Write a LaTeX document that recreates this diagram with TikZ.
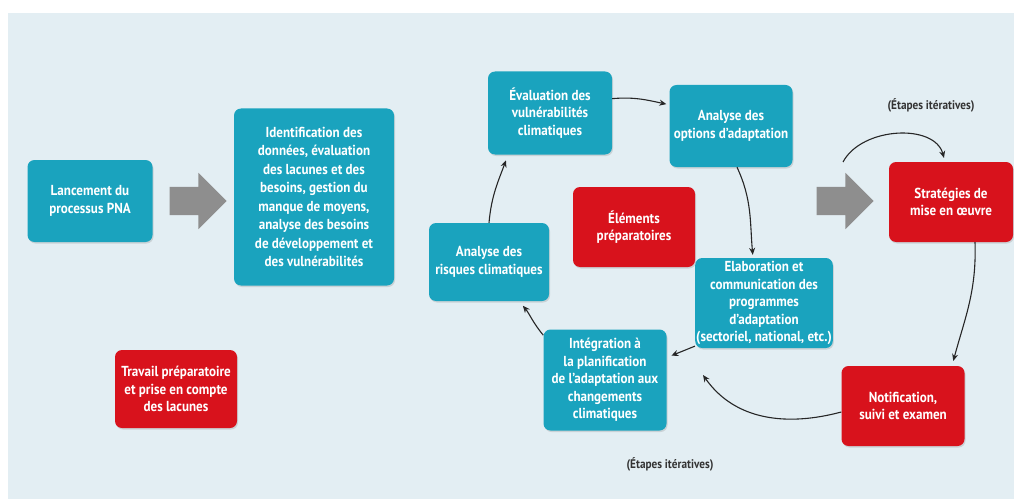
\documentclass[tikz,border=0pt]{standalone}
\usepackage{fontspec}
\newfontfamily\cf{PT Sans}[FakeStretch=0.9]
\usetikzlibrary{arrows.meta,shapes.arrows,shadows}
\definecolor{bgc}{HTML}{E3EEF3}
\definecolor{tealc}{HTML}{1AA3BE}
\definecolor{redc}{HTML}{D8121C}
\definecolor{greyc}{HTML}{8E8E8E}
\begin{document}
\begin{tikzpicture}[x=1pt,y=1pt,
  box/.style={rounded corners=7pt, text=white, align=center, inner xsep=1pt, inner ysep=2pt,
    font=\cf\bfseries\fontsize{14.5}{17.5}\selectfont,
    drop shadow={opacity=0.25, shadow xshift=1pt, shadow yshift=-1.5pt}},
  tbox/.style={box, fill=tealc},
  rbox/.style={box, fill=redc},
  bigarrow/.style={single arrow, fill=greyc, minimum height=57pt, inner xsep=0pt, inner ysep=14pt,
    single arrow head extend=14pt},
  conn/.style={-{Stealth[length=7pt,width=6pt]}, line width=1.1pt, black!85},
  itlab/.style={font=\cf\bfseries\fontsize{12.5}{14}\selectfont, text=black!80}]
\useasboundingbox (0,0) rectangle (1014,499);
\fill[white] (0,0) rectangle (1014,499);
\fill[bgc] (8,0) rectangle (1014,486);
% nodes
\node[tbox, minimum width=125pt, minimum height=82pt] (lanc) at (90,298) {Lancement du\\processus PNA};
\node[bigarrow] (g1) at (191,298) {};
\node[tbox, minimum width=160pt, minimum height=177pt, font=\cf\bfseries\fontsize{14.5}{18.5}\selectfont] (ident) at (314,302)
  {Identification des\\données, évaluation\\des lacunes et des\\besoins, gestion du\\manque de moyens,\\analyse des besoins\\de développement et\\des vulnérabilités};
\node[tbox, minimum width=120pt, minimum height=78pt] (risq) at (489,237) {Analyse des\\risques climatiques};
\node[tbox, minimum width=124pt, minimum height=83pt] (eval) at (550,386) {Évaluation des\\vulnérabilités\\climatiques};
\node[tbox, minimum width=123pt, minimum height=82pt] (opt) at (731,373) {Analyse des\\options d’adaptation};
\node[rbox, minimum width=122pt, minimum height=80pt] (elem) at (634,272) {Éléments\\préparatoires};
\node[tbox, minimum width=137pt, minimum height=90pt] (elab) at (764,196) {Elaboration et\\communication des\\programmes\\d’adaptation\\(sectoriel, national, etc.)};
\node[tbox, minimum width=123pt, minimum height=101pt] (integ) at (605,119) {Intégration à\\la planification\\de l’adaptation aux\\changements\\climatiques};
\node[bigarrow] (g2) at (838,298) {};
\node[rbox, minimum width=124pt, minimum height=80pt] (strat) at (951,297) {Stratégies de\\mise en œuvre};
\node[rbox, minimum width=123pt, minimum height=80pt] (notif) at (903,93) {Notification,\\suivi et examen};
\node[rbox, minimum width=122pt, minimum height=78pt] (trav) at (176,110) {Travail préparatoire\\et prise en compte\\des lacunes};
\node[itlab] (lab1) at (931,394) {(Étapes itératives)};
\node[itlab] (lab2) at (670,35) {(Étapes itératives)};
% connectors
\coordinate (itA) at (843,337);
\coordinate (itB) at (703,124);
\draw[conn, shorten >=3pt] (eval.13) to[out=5, in=168] (opt.161);
\draw[conn, shorten >=3pt] ([xshift=6pt]opt.south) to[out=-65, in=95] ([xshift=-11pt]elab.north);
\draw[conn, shorten >=5pt] (elab.212) -- (integ.20);
\draw[conn, shorten >=6pt] (integ.144) to[out=130, in=-50] ([xshift=30pt]risq.south);
\draw[conn, shorten >=6pt] (risq.north) to[out=85, in=-110] ([xshift=-42pt]eval.south);
\draw[conn, shorten >=4pt] (itA) to[out=62, in=105] ([xshift=-6pt]strat.north);
\draw[conn, shorten >=5pt] ([xshift=24pt]strat.south) to[out=-88, in=75] ([xshift=49pt]notif.north);
\draw[conn] ([yshift=-6pt]notif.west) to[out=195, in=-55] (itB);
\end{tikzpicture}
\end{document}
